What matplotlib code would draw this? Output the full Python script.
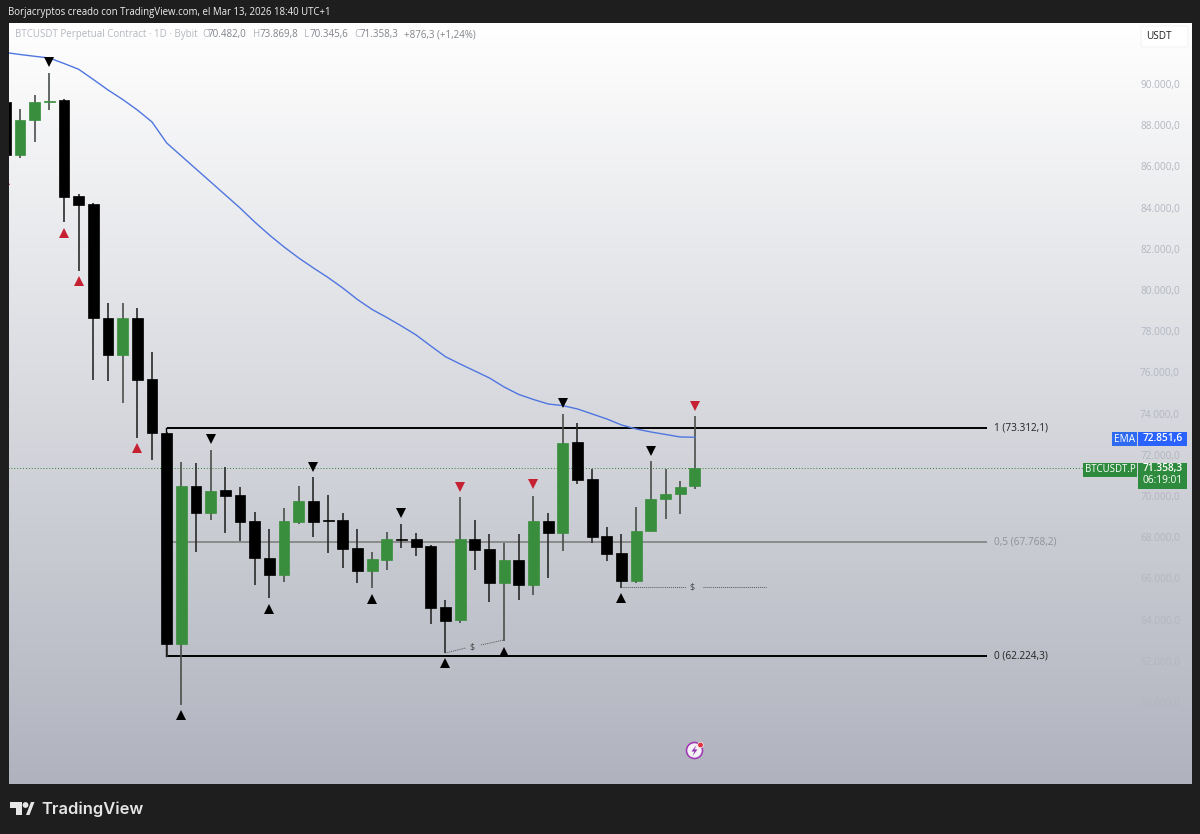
import numpy as np
import matplotlib
matplotlib.use("Agg")
import matplotlib.pyplot as plt
from matplotlib.patches import Circle, FancyBboxPatch, Polygon, Rectangle

bars = list(range(-1, 47))
opens = [89141, 86554, 88238, 89126, 89223, 84578, 84175, 78656, 76846, 78656, 75681, 73074,
         62803, 70502, 69191, 70293, 70065, 68773, 67006, 66167, 68739, 69744, 68812, 68822,
         67463, 66376, 66895, 67914, 67899, 67575, 64613, 63968, 67929, 67414, 65764, 66895,
         65696, 68788, 68220, 72608, 70826, 68060, 67220, 65890, 68303, 69841, 70084, 70482]
closes = [86554, 88253, 89141, 89185, 84530, 84127, 78627, 76846, 78656, 75647, 73045, 62803,
          70502, 69176, 70259, 70016, 68739, 66978, 66167, 68773, 69744, 68739, 68788, 67414,
          66361, 66929, 67914, 67866, 67526, 64565, 63949, 67914, 67366, 65764, 66895, 65681,
          68773, 68205, 72589, 70778, 68026, 67186, 65876, 68317, 69856, 70098, 70438, 71358]
highs = [89400, 88787, 89466, 90548, 89272, 84636, 84224, 79355, 79355, 79127, 76977, 73107,
         71667, 71618, 72234, 71395, 70453, 69210, 68385, 69419, 70501, 70909, 70065, 69162,
         68414, 67269, 68254, 68642, 68191, 67623, 64953, 69938, 68822, 68142, 67706, 68142,
         70016, 69162, 73982, 73530, 71327, 68511, 68142, 69482, 71715, 71298, 70744, 73870]
lows = [86300, 86423, 87199, 88753, 83301, 80937, 75632, 75598, 74530, 72832, 71749, 62201,
        59857, 67298, 68837, 68191, 67832, 65681, 65065, 65812, 68657, 68026, 67220, 66521,
        65764, 65521, 66410, 67492, 67075, 63803, 62396, 63852, 66410, 64842, 62963, 64953,
        65196, 66007, 67332, 70599, 67706, 66846, 65521, 65778, 68303, 68885, 69113, 70346]

ema = [91529, 91432, 91345, 91262, 90995, 90714, 90218, 89709, 89248, 88738, 88155, 87136,
       86505, 85874, 85243, 84612, 83981, 83301, 82670, 82088, 81554, 81069, 80607, 80098,
       79540, 79054, 78666, 78253, 77817, 77282, 76763, 76409, 76069, 75729, 75292, 74928,
       74686, 74467, 74385, 74225, 73982, 73739, 73448, 73254, 73108, 72987, 72866, 72851]

# senales
red_up_x = [-1, 3, 4, 8]
red_up_y = [85340, 82768, 80438, 72331]
red_down_x = [30, 35, 46]
red_down_y = [70438, 70584, 74370]
black_up_x = [11, 17, 24, 29, 33, 41]
black_up_y = [59347, 64517, 64998, 61871, 62429, 65050]
black_down_x = [2, 13, 20, 26, 37, 43]
black_down_y = [91068, 72744, 71409, 69176, 74516, 72186]

# fibo
fib_prices = [73312.1, 67768.2, 62224.3]
fib_labels = ["1 (73.312,1)", "0,5 (67.768,2)", "0 (62.224,3)"]
fib_colors = ["#000000", "#808080", "#000000"]
fib_text_colors = ["#222222", "#8f9197", "#222222"]
fib_start = 10
fib_end = 65.9

last_price = 71358.3
price_ticks = list(range(60000, 92000, 2000))
price_labels = ["60.000,0", "62.000,0", "64.000,0", "66.000,0", "68.000,0", "70.000,0", "72.000,0", "74.000,0",
                "76.000,0", "78.000,0", "80.000,0", "82.000,0", "84.000,0", "86.000,0", "88.000,0", "90.000,0"]

GREEN = "#388e3c"
RED = "#c62033"
DARK = "#1e1e1e"
plt.rcParams["font.family"] = ["Open Sans", "DejaVu Sans"]

fig = plt.figure(figsize=(12, 8.34), dpi=100, facecolor=DARK)
ax = fig.add_axes([8.5 / 1200, 1 - 784 / 834, (1191 - 8.5) / 1200, (784 - 23) / 834])
for s in ax.spines.values():
    s.set_visible(False)

# fondo degradado
grad = np.linspace(0, 1, 256).reshape(-1, 1, 1)
top = np.array([1.0, 1.0, 1.0]).reshape(1, 1, 3)
bottom = np.array([176, 179, 190]).reshape(1, 1, 3) / 255
ax.imshow(top + (bottom - top) * grad, extent=(0, 1, 0, 1), transform=ax.transAxes,
          aspect="auto", zorder=0)
ax.set_xlim(-0.784, 79.82)
ax.set_ylim(56019, 92961)

ax.set_xticks([])
ax.yaxis.tick_right()
ax.set_yticks(price_ticks)
ax.set_yticklabels(price_labels, fontsize=7.3, color="#b3b6bf", ha="right")
ax.tick_params(axis="y", length=0, pad=-8)

# precio actual
ax.plot([-1, 73.5], [last_price, last_price], color="#2e7d32", lw=0.7, ls=(0, (1, 2)), zorder=1)

# lineas fibo
for p, c in zip(fib_prices, fib_colors):
    ax.plot([fib_start, fib_end], [p, p], color=c, lw=1.4 if c == "#000000" else 1.2, zorder=2,
            solid_capstyle="butt")
ax.plot([fib_start - 0.05, fib_start - 0.05], [fib_prices[0], fib_prices[2]], color="#000000", lw=1.0, zorder=2)
for p, t, c in zip(fib_prices, fib_labels, fib_text_colors):
    ax.text(66.4, p, t, fontsize=7.2, color=c, va="center", ha="left")

# velas
colors = [GREEN if c >= o else "#000000" for o, c in zip(opens, closes)]
wick_colors = ["#4a4f4a" if c >= o else "#2a2a2a" for o, c in zip(opens, closes)]
ax.vlines(bars, lows, highs, colors=wick_colors, lw=1.2, zorder=3)
body_low = [min(o, c) for o, c in zip(opens, closes)]
body_h = [abs(o - c) for o, c in zip(opens, closes)]
ax.bar(bars, body_h, bottom=body_low, width=0.74, color=colors, edgecolor=colors, lw=0.5, zorder=4)

# ema
ax.plot(bars, ema, color="#4f76e0", lw=1.0, zorder=5)

# triangulos
ax.plot(red_up_x, red_up_y, "^", color=RED, ms=7.2, mew=0, zorder=6)
ax.plot(red_down_x, red_down_y, "v", color=RED, ms=7.2, mew=0, zorder=6)
ax.plot(black_up_x, black_up_y, "^", color="#000000", ms=7.2, mew=0, zorder=6)
ax.plot(black_down_x, black_down_y, "v", color="#000000", ms=7.2, mew=0, zorder=6)

# lineas de liquidez $
ax.plot([29, 30.4], [62381, 62623], color="#555555", lw=0.7, ls=(0, (1, 1)), zorder=5)
ax.plot([31.43, 33], [62770, 63012], color="#555555", lw=0.7, ls=(0, (1, 1)), zorder=5)
ax.text(30.8, 62650, "$", fontsize=6.5, color="#444444", ha="center", va="center", zorder=5)
ax.plot([41.04, 45.4], [65570, 65570], color="#555555", lw=0.7, ls=(0, (1, 1)), zorder=5)
ax.plot([46.56, 50.85], [65570, 65570], color="#555555", lw=0.7, ls=(0, (1, 1)), zorder=5)
ax.text(45.8, 65570, "$", fontsize=6.5, color="#444444", ha="center", va="center", zorder=5)

# capa superior en pixeles para textos y botones
ui = fig.add_axes([0, 0, 1, 1], facecolor="none")
ui.set_xlim(0, 1200)
ui.set_ylim(834, 0)
ui.axis("off")

ui.text(8, 12.5, "Borjacryptos creado con TradingView.com, el Mar 13, 2026 18:40 UTC+1", fontsize=6.92,
        color="#f0f0f0", va="center")

legend_parts = [(15, "BTCUSDT Perpetual Contract · 1D · Bybit", "#b4b7c0"), (202, "O", "#b4b7c0"),
                (208, "70.482,0", "#80838a"), (253, "H", "#b4b7c0"), (260, "73.869,8", "#80838a"),
                (304, "L", "#b4b7c0"), (310, "70.345,6", "#80838a"), (354, "C", "#b4b7c0"),
                (360, "71.358,3", "#80838a"), (404, "+876,3 (+1,24%)", "#80838a")]
for x, t, c in legend_parts:
    ui.text(x, 34.5, t, fontsize=7.0, color=c, va="center")

ui.add_patch(FancyBboxPatch((1141, 26), 47, 21, boxstyle="round,pad=0,rounding_size=2", fc="#ffffff",
                            ec="#f4f4f6", lw=0.8))
ui.text(1159, 36.5, "USDT", fontsize=7.2, color="#222222", ha="center", va="center")

# etiquetas de precio
ui.add_patch(Rectangle((1112, 432), 25, 14, fc="#2f6bf0", ec="none"))
ui.add_patch(Rectangle((1138, 432), 49, 14, fc="#2962ff", ec="none"))
ui.text(1124.5, 439, "EMA", fontsize=7.2, color="#ffffff", ha="center", va="center")
ui.text(1162.5, 438.5, "72.851,6", fontsize=7.3, color="#ffffff", ha="center", va="center", weight="semibold")
ui.add_patch(Rectangle((1083, 462.5), 54, 14, fc="#2e8b3e", ec="none"))
ui.add_patch(Rectangle((1138, 462.5), 49, 26, fc="#2e8b3e", ec="none"))
ui.text(1110, 469.5, "BTCUSDT.P", fontsize=6.9, color="#ffffff", ha="center", va="center")
ui.text(1162.5, 468.5, "71.358,3", fontsize=7.3, color="#ffffff", ha="center", va="center", weight="semibold")
ui.text(1162.5, 480, "06:19:01", fontsize=7.3, color="#ffffff", ha="center", va="center")

# icono rayo
ui.add_patch(Circle((694.5, 750.5), 8, fc="#f5f2f7", ec="#a03cb4", lw=1.2))
ui.add_patch(Polygon([(696.5, 745), (691.5, 751.5), (694.5, 751.5), (692.5, 756), (697.5, 749.5), (694.5, 749.5)],
                     closed=True, fc="#8e2fb0", ec="none"))
ui.add_patch(Circle((700.5, 745), 2.8, fc="#e0323c", ec="#f5f2f7", lw=0.5))

# logo
logo = "#e6e6e6"
ui.add_patch(Polygon([(10, 802), (22, 802), (22, 815), (16, 815), (16, 808), (10, 808)], closed=True, fc=logo, ec="none"))
ui.add_patch(Circle((25.5, 805), 2.9, fc=logo, ec="none"))
ui.add_patch(Polygon([(26, 815), (31, 802), (34.5, 802), (29.5, 815)], closed=True, fc=logo, ec="none"))
ui.text(41, 809, "TradingView", fontsize=11.9, color=logo, family=["Inter", "DejaVu Sans"], weight="semibold",
        va="center")

fig.savefig("out.png", dpi=100, facecolor=DARK)
